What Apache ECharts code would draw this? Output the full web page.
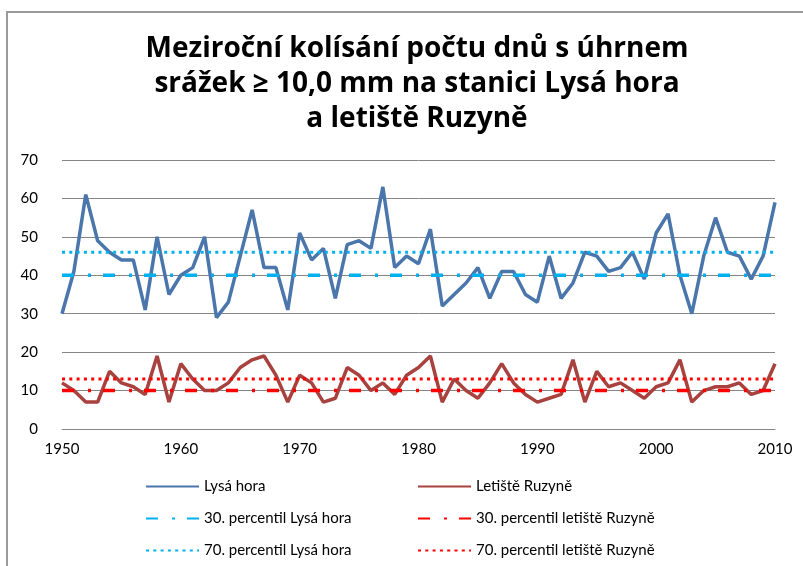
<!DOCTYPE html>
<html>
<head>
<meta charset="utf-8">
<script src="https://cdn.jsdelivr.net/npm/echarts@6/dist/echarts.min.js"></script>
<style>
  html, body { margin: 0; padding: 0; background: #fff; }
  #chart { width: 803px; height: 566px; }
</style>
</head>
<body>
<div id="chart"></div>
<script>
// roky 1950-2010
var years = [1950, 1951, 1952, 1953, 1954, 1955, 1956, 1957, 1958, 1959,
  1960, 1961, 1962, 1963, 1964, 1965, 1966, 1967, 1968, 1969,
  1970, 1971, 1972, 1973, 1974, 1975, 1976, 1977, 1978, 1979,
  1980, 1981, 1982, 1983, 1984, 1985, 1986, 1987, 1988, 1989,
  1990, 1991, 1992, 1993, 1994, 1995, 1996, 1997, 1998, 1999,
  2000, 2001, 2002, 2003, 2004, 2005, 2006, 2007, 2008, 2009, 2010]

var lysaHora = [30, 41, 61, 49, 46, 44, 44, 31, 50, 35,
  40, 42, 50, 29, 33, 45, 57, 42, 42, 31,
  51, 44, 47, 34, 48, 49, 47, 63, 42, 45,
  43, 52, 32, 35, 38, 42, 34, 41, 41, 35,
  33, 45, 34, 38, 46, 45, 41, 42, 46, 39,
  51, 56, 40, 30, 45, 55, 46, 45, 39, 45, 59]

var ruzyne = [12, 10, 7, 7, 15, 12, 11, 9, 19, 7,
  17, 13, 10, 10, 12, 16, 18, 19, 14, 7,
  14, 12, 7, 8, 16, 14, 10, 12, 9, 14,
  16, 19, 7, 13, 10, 8, 12, 17, 12, 9,
  7, 8, 9, 18, 7, 15, 11, 12, 10, 8,
  11, 12, 18, 7, 10, 11, 11, 12, 9, 10, 17]

// percentily
var p30Lysa = 40
var p70Lysa = 46
var p30Ruzyne = 10
var p70Ruzyne = 13

var xTicks = [1950, 1960, 1970, 1980, 1990, 2000, 2010]
var yTicks = [0, 10, 20, 30, 40, 50, 60, 70]

var fontName = 'Lato, "Open Sans", sans-serif'

function pairs (vals) {
  return years.map(function (y, i) { return [y, vals[i]] })
}
function constLine (v) {
  return years.map(function (y) { return [y, v] })
}

var dashDot = [12, 14, 3, 12]
var dotted = [3, 4.3]

var legendBase = {
  orient: 'vertical',
  top: 474,
  itemWidth: 53,
  itemHeight: 16,
  itemGap: 17,
  itemStyle: { opacity: 0 },
  textStyle: { fontFamily: fontName, fontSize: 15, color: '#000' }
}

var option = {
  animation: false,
  backgroundColor: '#fff',
  title: {
    text: 'Meziroční kolísání počtu dnů s úhrnem\nsrážek ≥ 10,0 mm na stanici Lysá hora\na letiště Ruzyně',
    left: 412,
    top: 27,
    textAlign: 'center',
    textStyle: {
      fontFamily: '"Open Sans", sans-serif',
      fontWeight: 'bold',
      fontSize: 28,
      lineHeight: 35,
      color: '#000'
    }
  },
  grid: {
    left: 62,
    right: 28,
    top: 160,
    bottom: 137
  },
  xAxis: {
    type: 'value',
    min: xTicks[0],
    max: xTicks[xTicks.length - 1],
    interval: 10,
    axisLine: { show: true, lineStyle: { color: '#868686', width: 1 } },
    axisTick: { show: false },
    splitLine: { show: false },
    axisLabel: {
      margin: 13,
      fontFamily: fontName,
      fontSize: 15,
      color: '#000',
      formatter: function (v) { return String(v) }
    }
  },
  yAxis: {
    type: 'value',
    min: yTicks[0],
    max: yTicks[yTicks.length - 1],
    interval: 10,
    axisLine: { show: false },
    axisTick: { show: false },
    splitLine: { show: true, lineStyle: { color: '#868686', width: 1 } },
    axisLabel: {
      margin: 24,
      fontFamily: fontName,
      fontSize: 15,
      color: '#000'
    }
  },
  legend: [
    Object.assign({}, legendBase, {
      left: 140,
      data: ['Lysá hora', '30. percentil Lysá hora', '70. percentil Lysá hora']
    }),
    Object.assign({}, legendBase, {
      left: 412,
      data: ['Letiště Ruzyně', '30. percentil letiště Ruzyně', '70. percentil letiště Ruzyně']
    })
  ],
  graphic: [
    {
      type: 'polyline',
      shape: { points: [[7, 566], [7, 12], [803, 12]] },
      style: { stroke: '#9a9a9a', lineWidth: 2, fill: null }
    }
  ],
  series: [
    {
      name: 'Lysá hora',
      type: 'line',
      symbol: 'none',
      data: pairs(lysaHora),
      lineStyle: { color: '#4a76ab', width: 3.5 },
      itemStyle: { color: '#4a76ab' }
    },
    {
      name: 'Letiště Ruzyně',
      type: 'line',
      symbol: 'none',
      data: pairs(ruzyne),
      lineStyle: { color: '#a8423f', width: 3.5 },
      itemStyle: { color: '#a8423f' }
    },
    {
      name: '30. percentil Lysá hora',
      type: 'line',
      symbol: 'none',
      data: constLine(p30Lysa),
      lineStyle: { color: '#00b0f0', width: 3.5, type: dashDot },
      itemStyle: { color: '#00b0f0' }
    },
    {
      name: '30. percentil letiště Ruzyně',
      type: 'line',
      symbol: 'none',
      data: constLine(p30Ruzyne),
      lineStyle: { color: '#ff0000', width: 3.5, type: dashDot },
      itemStyle: { color: '#ff0000' }
    },
    {
      name: '70. percentil Lysá hora',
      type: 'line',
      symbol: 'none',
      data: constLine(p70Lysa),
      lineStyle: { color: '#00b0f0', width: 3, type: dotted },
      itemStyle: { color: '#00b0f0' }
    },
    {
      name: '70. percentil letiště Ruzyně',
      type: 'line',
      symbol: 'none',
      data: constLine(p70Ruzyne),
      lineStyle: { color: '#ff0000', width: 3, type: dotted },
      itemStyle: { color: '#ff0000' }
    }
  ]
}

var myChart = echarts.init(document.getElementById('chart'), null, { renderer: 'canvas' })
myChart.setOption(option)
</script>
</body>
</html>
